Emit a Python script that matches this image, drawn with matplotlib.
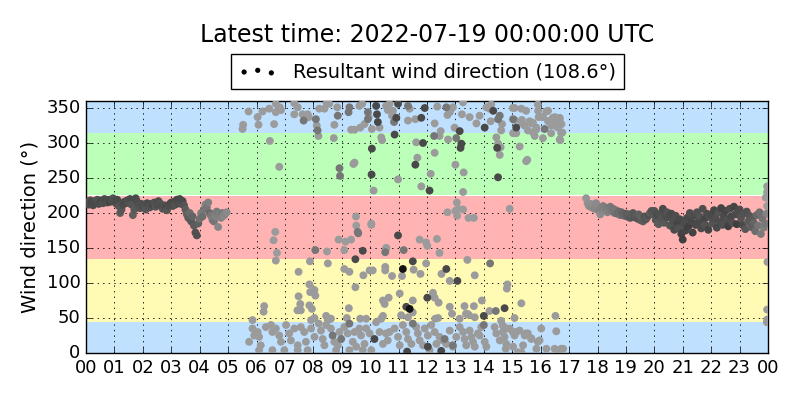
import matplotlib
matplotlib.use("Agg")
import matplotlib.pyplot as plt
import numpy as np

plt.style.use("classic")

# --- data (hours since 00 UTC, direction in degrees, wind speed m/s) ---
title = "Latest time: 2022-07-19 00:00:00 UTC"
legend_label = "Resultant wind direction (108.6°)"
ylabel = "Wind direction (°)"

sample_step_h = 0.05

# night record 00-05 UTC
seg1_start_h = 0.0
seg1_dirs = [
    214, 216, 212, 218, 215, 211, 217, 214, 219, 213,
    216, 218, 214, 220, 217, 215, 219, 216, 218, 221,
    217, 214, 219, 210, 200, 205, 212, 216, 214, 218,
    215, 220, 212, 197, 205, 221, 216, 210, 207, 213,
    209, 212, 205, 214, 210, 208, 213, 211, 215, 209,
    212, 217, 214, 210, 206, 211, 208, 204, 210, 213,
    215, 210, 216, 212, 219, 214, 220, 213, 217, 211,
    205, 198, 193, 200, 188, 195, 182, 172, 168, 185,
    192, 200, 195, 205, 212, 208, 215, 200, 196, 190,
    188, 195, 202, 180, 198, 193, 200, 196, 199, 201,
]
seg1_speed = [
    5.5, 6.0, 5.8, 5.6, 6.2, 5.9, 5.7, 6.0, 5.5, 5.8,
    5.9, 6.1, 5.6, 5.8, 6.0, 5.7, 5.9, 6.2, 5.8, 5.6,
    5.7, 5.9, 6.0, 5.4, 5.0, 5.2, 5.8, 6.0, 5.9, 5.7,
    5.6, 5.9, 5.3, 4.8, 5.1, 6.0, 5.8, 5.5, 5.4, 5.7,
    5.8, 5.6, 5.3, 5.9, 5.7, 5.5, 5.8, 6.0, 5.6, 5.4,
    5.7, 5.9, 5.5, 5.8, 5.4, 5.6, 5.9, 5.3, 5.7, 5.8,
    6.0, 5.7, 5.9, 5.5, 6.1, 5.8, 6.0, 5.6, 5.9, 5.4,
    5.0, 4.6, 4.9, 4.2, 5.2, 4.5, 5.0, 5.5, 5.6, 4.8,
    3.8, 3.2, 4.0, 3.5, 2.8, 3.6, 3.0, 4.2, 3.4, 3.1,
    3.6, 2.9, 3.3, 2.6, 3.1, 2.8, 3.4, 2.5, 2.7, 2.4,
]

# evening record 17:36-24 UTC
seg3_start_h = 17.6
seg3_dirs = [
    221, 214, 210, 213, 208, 212, 206, 214,
    208, 203, 198, 206, 210, 204, 207, 201, 205, 209,
    203, 206, 200, 204, 199, 202, 197, 201, 198, 196,
    199, 195, 198, 193, 197, 200, 194, 196, 192, 198,
    190, 193, 188, 195, 191, 194, 197, 200, 203, 198,
    203, 190, 197, 184, 199, 192, 206, 186, 195, 201,
    194, 182, 199, 188, 176, 196, 185, 178, 191, 170,
    162, 184, 175, 193, 181, 200, 188, 172, 196, 183,
    201, 187, 195, 178, 206, 191, 183, 199, 176, 194,
    198, 185, 204, 192, 179, 200, 188, 207, 183, 195,
    203, 190, 181, 206, 195, 186, 209, 198, 184, 201,
    205, 193, 183, 199, 177, 202, 188, 196, 180, 191,
    186, 174, 197, 182, 201, 170, 192, 179, 185, 199,
]
seg3_speed = [
    1.8, 2.0, 2.3, 2.1, 2.5, 2.2, 2.6, 2.4,
    2.5, 2.8, 2.3, 2.9, 3.0, 2.6, 3.2, 2.8, 3.1, 3.4,
    3.3, 3.6, 3.8, 3.5, 4.0, 4.2, 3.9, 4.4, 4.6, 4.3,
    4.8, 5.0, 4.7, 5.2, 4.9, 5.1, 5.4, 5.0, 5.3, 4.8,
    5.2, 4.6, 5.0, 5.5, 5.3, 5.1, 5.6, 5.0, 5.4, 5.2,
    5.5, 5.3, 5.8, 5.0, 5.6, 5.4, 5.9, 5.2, 5.7, 5.5,
    5.8, 5.4, 6.0, 5.6, 5.9, 5.7, 6.2, 5.5, 6.0, 6.3,
    6.5, 5.8, 6.2, 5.9, 6.4, 5.7, 6.1, 6.3, 5.8, 6.0,
    5.6, 6.0, 5.4, 5.9, 5.7, 6.1, 5.5, 5.8, 6.2, 5.6,
    5.9, 5.5, 6.2, 5.7, 6.0, 5.4, 5.8, 6.3, 5.6, 5.9,
    6.1, 5.7, 6.4, 5.8, 6.0, 5.6, 6.2, 5.9, 6.5, 5.7,
    5.8, 5.4, 5.9, 5.5, 5.2, 5.6, 5.0, 5.3, 4.8, 5.1,
    4.5, 4.0, 4.3, 3.6, 3.9, 3.3, 3.7, 3.0, 3.4, 2.8,
]

# daytime, variable wind: (hour, direction)
calm_points = [
    (5.72, 345), (5.53, 326), (5.51, 320), (6.04, 337), (6.07, 326), (6.21, 345), (6.45, 349),
    (6.47, 303), (6.62, 327), (6.68, 356), (6.82, 351), (6.86, 347), (6.68, 344), (6.80, 266),
    (7.33, 341), (7.45, 351), (7.33, 357), (7.62, 341), (7.80, 341), (7.84, 337), (8.12, 325),
    (8.18, 310), (8.21, 349), (8.39, 349), (8.47, 357), (8.56, 356), (8.74, 326), (8.72, 307),
    (8.84, 351), (9.33, 319), (9.45, 319), (9.45, 272), (9.41, 270), (9.62, 353), (9.72, 356),
    (9.65, 322), (9.80, 327), (9.95, 337), (10.06, 320), (10.12, 232), (10.33, 322), (10.39, 308),
    (10.42, 304), (10.56, 353), (10.62, 347), (9.50, 195), (10.04, 185),
    (6.66, 173), (6.60, 161), (6.72, 143), (6.68, 132), (7.48, 116), (7.88, 131), (8.51, 128),
    (8.48, 145), (7.86, 98), (7.89, 87), (8.04, 90), (8.07, 82), (7.48, 81), (7.54, 70),
    (7.56, 61), (7.44, 61), (7.86, 68), (7.95, 63), (6.27, 67), (6.25, 59), (5.86, 47),
    (8.04, 50), (8.45, 53), (8.62, 49), (9.18, 50), (8.89, 162), (9.13, 159), (9.09, 147),
    (9.51, 182), (9.33, 162), (9.09, 120), (9.27, 116), (9.76, 111), (9.98, 118), (10.09, 118),
    (9.48, 94), (9.25, 64), (10.04, 183), (10.56, 150), (10.53, 123), (10.53, 118), (10.45, 75),
    (10.51, 70), (10.45, 53), (10.39, 49), (9.86, 49), (9.65, 49),
    (5.86, 35), (5.92, 25), (6.04, 30), (6.09, 23), (5.74, 16), (6.15, 11), (6.33, 37),
    (6.51, 40), (6.56, 30), (6.68, 35), (6.80, 25), (6.86, 16), (7.04, 40), (7.15, 28),
    (7.21, 18), (7.33, 35), (7.45, 11), (7.56, 37), (7.68, 30), (7.74, 16), (7.80, 4),
    (7.92, 35), (8.04, 23), (8.19, 42), (8.27, 32), (8.33, 20), (8.39, 11), (8.51, 47),
    (8.59, 49), (8.62, 35), (8.74, 16), (8.86, 11), (8.92, 30), (9.09, 37), (9.21, 28),
    (9.39, 16), (9.45, 30), (9.51, 9), (9.62, 35), (9.68, 25), (9.80, 13), (9.86, 35),
    (9.98, 28), (10.04, 4), (10.21, 44), (10.33, 30), (10.45, 13), (10.56, 28), (10.62, 18),
    (6.98, 4), (6.09, 4), (7.45, 4), (7.92, 47), (8.45, 40), (8.80, 4), (9.27, 4),
    (9.74, 4), (6.56, 4),
    (10.68, 356), (10.80, 346), (10.77, 339), (11.39, 349), (11.33, 332), (11.59, 334),
    (11.62, 301), (11.66, 279), (10.98, 248), (11.80, 238), (12.13, 256), (12.27, 286),
    (12.27, 328), (12.36, 352), (12.48, 317), (12.44, 310), (12.74, 305), (12.72, 340),
    (12.80, 344), (12.85, 349), (12.91, 351), (12.97, 322), (13.23, 341), (13.27, 358),
    (13.00, 269), (13.29, 258), (13.27, 230), (13.74, 328), (13.85, 339), (13.50, 337),
    (14.09, 351), (14.20, 349), (14.26, 355), (14.24, 331), (14.44, 308), (14.50, 299),
    (14.59, 294), (14.56, 283), (14.64, 327), (14.61, 318), (15.03, 314), (15.26, 295),
    (15.08, 350), (15.32, 349), (15.34, 333), (15.49, 346), (15.43, 325), (15.55, 318),
    (15.67, 328), (15.73, 315), (15.85, 322), (15.79, 310), (15.91, 346), (15.93, 337),
    (16.08, 337), (16.26, 346), (16.32, 332), (16.38, 325), (16.50, 337), (16.55, 330),
    (16.61, 322), (16.67, 334), (16.73, 327), (16.69, 304), (16.76, 315), (15.53, 276),
    (14.91, 206), (13.05, 215), (13.09, 206), (13.00, 203), (13.27, 205), (12.72, 201),
    (13.46, 193), (13.65, 193), (13.06, 196),
    (15.02, 350), (15.08, 333), (15.14, 314), (15.32, 329), (15.49, 274), (15.61, 331),
    (15.73, 329), (15.84, 319), (15.96, 338), (16.08, 307), (16.20, 345), (16.26, 331),
    (16.37, 314), (16.43, 336), (16.55, 324), (16.67, 305), (16.72, 314), (16.67, 336),
    (15.90, 355),
    (10.57, 150), (11.74, 162), (11.97, 158), (12.01, 153), (12.35, 163), (12.44, 143),
    (11.53, 119), (11.77, 113), (11.97, 128), (12.51, 113), (12.80, 103), (13.42, 133),
    (13.68, 111), (14.83, 98), (14.81, 92), (15.32, 71), (10.77, 110), (11.12, 110),
    (11.04, 85), (10.65, 79), (11.50, 75), (11.50, 58), (12.21, 86), (12.27, 79),
    (12.41, 72), (12.80, 66), (13.32, 67), (13.37, 56), (13.65, 67), (13.93, 75),
    (14.20, 60), (13.42, 56), (13.48, 54), (11.09, 54), (11.33, 51), (12.29, 49),
    (12.39, 50), (12.88, 56), (13.15, 49), (13.68, 51), (15.08, 50), (16.52, 53),
    (10.68, 30), (10.86, 35), (10.98, 23), (11.04, 11), (11.15, 40), (11.27, 30),
    (11.33, 20), (11.45, 13), (11.62, 37), (11.68, 28), (11.74, 18), (11.86, 11),
    (11.92, 35), (12.03, 25), (12.09, 4), (12.15, 40), (12.27, 30), (12.33, 13),
    (12.44, 23), (12.56, 18), (12.68, 13), (12.80, 32), (12.91, 9), (13.03, 23),
    (13.15, 37), (13.27, 30), (13.32, 20), (13.38, 11), (13.50, 32), (13.56, 23),
    (13.62, 16), (13.68, 9), (13.79, 28), (13.85, 25), (13.91, 37), (14.03, 16),
    (14.09, 9), (14.38, 37), (14.44, 28), (14.56, 18), (14.67, 30), (14.73, 23),
    (14.79, 13), (14.91, 35), (15.03, 9), (15.14, 30), (15.26, 32), (15.38, 11),
    (15.44, 25), (15.55, 28), (15.67, 20), (15.85, 6), (15.96, 18), (16.02, 35),
    (16.20, 6), (16.49, 6), (16.55, 31), (16.79, 6),
    (14.61, 46), (14.67, 39), (14.79, 35), (15.02, 30), (15.08, 25), (15.49, 28),
    (15.67, 21), (15.90, 16), (14.77, 6), (15.20, 1), (15.32, 1), (16.61, 2), (16.72, 6),
    (23.97, 238), (23.97, 230), (23.92, 222), (23.97, 210), (23.98, 130), (23.97, 62),
    (23.98, 48), (23.96, 44),
]
moderate_points = [
    (7.66, 332), (8.09, 334), (8.86, 339), (9.24, 344), (9.27, 351), (8.92, 264), (8.94, 253),
    (9.92, 334), (9.92, 344), (8.15, 318), (8.07, 147), (9.56, 173), (9.58, 171), (10.53, 144),
    (8.68, 25), (8.98, 20), (9.27, 42), (10.84, 330), (11.33, 353), (12.68, 351), (13.03, 307),
    (14.56, 339), (14.50, 334), (15.03, 334), (16.14, 320), (12.25, 310), (11.18, 147),
    (14.22, 128), (14.42, 60), (12.62, 20), (12.91, 11), (14.00, 40), (11.50, 42),
]
strong_points = [
    (10.06, 292), (10.05, 255), (10.21, 353), (10.24, 341), (10.27, 330), (9.74, 146),
    (9.48, 134), (10.15, 20), (10.98, 356), (10.92, 336), (10.86, 312), (11.80, 336),
    (11.92, 350), (11.86, 300), (11.59, 269), (12.09, 232), (13.15, 317), (13.21, 299),
    (13.18, 293), (14.03, 322), (14.33, 346), (14.47, 293), (14.50, 251), (15.14, 322),
    (10.98, 168), (11.50, 131), (12.68, 120), (13.07, 103), (11.27, 66), (12.01, 79),
    (14.73, 64), (14.00, 53), (12.03, 9), (11.30, 2), (12.50, 3),
]
gust_points = [(11.15, 120), (11.39, 63)]
speed_levels = {"calm": 1.5, "moderate": 3.5, "strong": 6.0, "gust": 9.0}

# direction sectors
sectors = [(0, 45), (45, 135), (135, 225), (225, 315), (315, 360)]
sector_colors = ["#bfe0ff", "#fffab4", "#ffb3b3", "#bbffb8", "#bfe0ff"]


def main():
    fig = plt.figure(figsize=(8, 4), dpi=100, facecolor="white")
    ax = fig.add_axes([0.1075, 0.1175, 0.8525, 0.63])

    for (lo, hi), col in zip(sectors, sector_colors):
        ax.axhspan(lo, hi, color=col, lw=0, zorder=0)

    cmap = plt.cm.gray_r
    norm = plt.Normalize(-4, 10)

    hours1 = seg1_start_h + sample_step_h * np.arange(len(seg1_dirs))
    hours3 = seg3_start_h + sample_step_h * np.arange(len(seg3_dirs))

    all_h = [hours1, hours3]
    all_d = [np.array(seg1_dirs), np.array(seg3_dirs)]
    all_s = [np.array(seg1_speed), np.array(seg3_speed)]
    for name, pts in [("calm", calm_points), ("moderate", moderate_points),
                      ("strong", strong_points), ("gust", gust_points)]:
        arr = np.array(pts, dtype=float)
        all_h.append(arr[:, 0])
        all_d.append(arr[:, 1])
        all_s.append(np.full(len(arr), speed_levels[name]))

    ax.scatter(np.concatenate(all_h), np.concatenate(all_d),
               c=np.concatenate(all_s), cmap=cmap, norm=norm,
               s=32, edgecolors="none", zorder=3)

    # legend proxy
    ax.scatter([], [], c="k", s=14, edgecolors="none", label=legend_label)
    ax.legend(loc="lower center", bbox_to_anchor=(0.5, 1.048), borderaxespad=0,
              scatterpoints=3, fontsize=14, frameon=True, fancybox=False)

    ax.set_xlim(0, 24)
    ax.set_ylim(0, 360)
    ax.set_xticks(range(25))
    ax.set_xticklabels([f"{h % 24:02d}" for h in range(25)])
    ax.set_yticks(range(0, 351, 50))
    ax.tick_params(labelsize=13)
    ax.grid(True, color="k", linestyle=":", linewidth=0.6)
    ax.set_ylabel(ylabel, fontsize=14)

    fig.text(0.534, 0.912, title, ha="center", va="center", fontsize=17)

    fig.savefig("out.png", dpi=100, facecolor="white")


if __name__ == "__main__":
    main()
